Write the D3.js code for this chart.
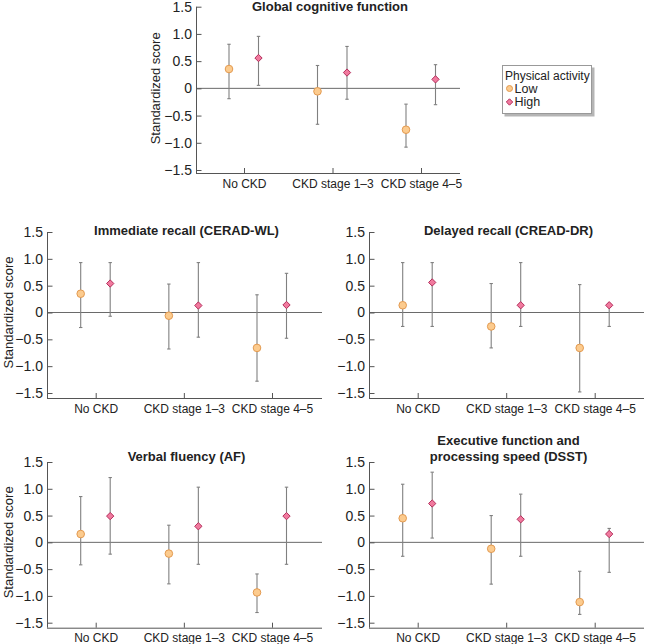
<!DOCTYPE html>
<html><head><meta charset="utf-8">
<script src="https://cdn.jsdelivr.net/npm/d3@7"></script>
<style>body{margin:0;background:#fff;} text{font-family:"Liberation Sans",Arial,Helvetica,sans-serif;fill:#222;}</style>
</head><body>
<svg id="c" width="654" height="644"></svg>
<script>
const categories = ["No CKD", "CKD stage 1–3", "CKD stage 4–5"];
const groups = ["Low", "High"];
const yTicks = [1.5, 1.0, 0.5, 0, -0.5, -1.0, -1.5];
const yTickLabels = ["1.5", "1.0", "0.5", "0", "−0.5", "−1.0", "−1.5"];
const legendTitle = "Physical activity";
const yAxisTitle = "Standardized score";

// [mean, lower, upper] per category
const globalLow  = [[0.355, -0.19, 0.81], [-0.055, -0.66, 0.42], [-0.76, -1.08, -0.29]];
const globalHigh = [[0.557, 0.055, 0.955], [0.29, -0.20, 0.77], [0.165, -0.30, 0.435]];
const immLow  = [[0.35, -0.28, 0.93], [-0.06, -0.68, 0.53], [-0.66, -1.28, 0.33]];
const immHigh = [[0.54, -0.07, 0.93], [0.13, -0.46, 0.93], [0.14, -0.48, 0.73]];
const delLow  = [[0.135, -0.26, 0.93], [-0.26, -0.66, 0.54], [-0.66, -1.48, 0.52]];
const delHigh = [[0.56, -0.26, 0.93], [0.135, -0.26, 0.93], [0.135, -0.26, 0.16]];
const verbLow  = [[0.155, -0.42, 0.855], [-0.21, -0.775, 0.32], [-0.935, -1.31, -0.59]];
const verbHigh = [[0.49, -0.22, 1.21], [0.30, -0.41, 1.03], [0.49, -0.41, 1.03]];
const execLow  = [[0.45, -0.26, 1.085], [-0.12, -0.78, 0.50], [-1.115, -1.345, -0.54]];
const execHigh = [[0.725, 0.08, 1.31], [0.43, -0.26, 0.90], [0.155, -0.56, 0.26]];

const panelTitles = [
  ["Global cognitive function"],
  ["Immediate recall (CERAD-WL)"],
  ["Delayed recall (CREAD-DR)"],
  ["Verbal fluency (AF)"],
  ["Executive function and", "processing speed (DSST)"]
];

const svg = d3.select("#c");
const lowFill = "#FCCB8E", lowStroke = "#E39A50";
const highFill = "#F17A9E", highStroke = "#B42E5C";
const barColor = "#808080";

const panels = [
  {title: panelTitles[0], low: globalLow, high: globalHigh, x0: 196, x1: 460, yT: 6.7, yB: 170, axB: 173, c0: 244, c1: 421, ytitle: 155, titleY: [10.5]},
  {title: panelTitles[1], low: immLow, high: immHigh, x0: 47, x1: 322, yT: 232, yB: 393, axB: 398, c0: 95.7, c1: 272, ytitle: 8, titleY: [234.5]},
  {title: panelTitles[2], low: delLow, high: delHigh, x0: 369, x1: 644, yT: 232, yB: 393, axB: 398, c0: 417.7, c1: 594.7, ytitle: null, titleY: [234.5]},
  {title: panelTitles[3], low: verbLow, high: verbHigh, x0: 47, x1: 322, yT: 462, yB: 622.7, axB: 627.7, c0: 95.7, c1: 272, ytitle: 8, titleY: [461]},
  {title: panelTitles[4], low: execLow, high: execHigh, x0: 369, x1: 644, yT: 462, yB: 622.7, axB: 627.7, c0: 417.7, c1: 594.7, ytitle: null, titleY: [444.5, 461]}
];

const off = {Low: -15, High: 14.5};

panels.forEach(p => {
  const g = svg.append("g");
  const y = d3.scaleLinear().domain([-1.5, 1.5]).range([p.yB, p.yT]);
  const x = d3.scalePoint().domain(categories).range([p.c0, p.c1]);

  // zero line
  g.append("line").attr("x1", p.x0).attr("x2", p.x1).attr("y1", y(0)).attr("y2", y(0))
    .attr("stroke", "#6a6a6a").attr("stroke-width", 1);

  // y axis
  const ya = d3.axisLeft(y).tickValues(yTicks).tickSizeInner(-5).tickSizeOuter(0)
    .tickFormat((d, i) => yTickLabels[i]).tickPadding(4);
  const yg = g.append("g").attr("transform", `translate(${p.x0},0)`).call(ya);
  yg.select(".domain").remove();
  yg.append("line").attr("x1", 0.5).attr("x2", 0.5).attr("y1", p.yT).attr("y2", p.axB).attr("stroke", "#555");
  yg.selectAll(".tick line").attr("stroke", "#555").attr("transform", "translate(0.5,0)");
  yg.selectAll(".tick text").attr("font-size", 14).attr("fill", "#222")
    .style("font-family", "'Liberation Sans',Arial,sans-serif");

  // x axis
  const xa = d3.axisBottom(x).tickSizeInner(-5).tickSizeOuter(0).tickPadding(6);
  const xg = g.append("g").attr("transform", `translate(0,${p.axB})`).call(xa);
  xg.select(".domain").remove();
  xg.append("line").attr("x1", p.x0).attr("x2", p.x1).attr("y1", 0.5).attr("y2", 0.5).attr("stroke", "#555");
  xg.selectAll(".tick line").attr("stroke", "#555");
  xg.selectAll(".tick text").attr("font-size", 12).attr("fill", "#222")
    .style("font-family", "'Liberation Sans',Arial,sans-serif");

  // title
  p.title.forEach((t, i) => {
    g.append("text").attr("x", (p.x0 + p.x1) / 2 + 2).attr("y", p.titleY[i])
      .attr("text-anchor", "middle").attr("font-size", 13).attr("font-weight", "bold").text(t);
  });

  // y title
  if (p.ytitle !== null) {
    g.append("text").attr("transform", `translate(${p.ytitle},${y(0)}) rotate(-90)`)
      .attr("text-anchor", "middle").attr("dominant-baseline", "central")
      .attr("font-size", 13).text(yAxisTitle);
  }

  // error bars + markers
  groups.forEach(grp => {
    const data = grp === "Low" ? p.low : p.high;
    data.forEach((d, i) => {
      const cx = x(categories[i]) + off[grp];
      g.append("line").attr("x1", cx).attr("x2", cx).attr("y1", y(d[1])).attr("y2", y(d[2]))
        .attr("stroke", barColor).attr("stroke-width", 1.1);
      [d[1], d[2]].forEach(v => {
        g.append("line").attr("x1", cx - 1.7).attr("x2", cx + 1.7).attr("y1", y(v)).attr("y2", y(v))
          .attr("stroke", barColor).attr("stroke-width", 1.1);
      });
      if (grp === "Low") {
        g.append("circle").attr("cx", cx).attr("cy", y(d[0])).attr("r", 3.8)
          .attr("fill", lowFill).attr("stroke", lowStroke).attr("stroke-width", 1);
      } else {
        g.append("path").attr("d", d3.symbol().type(d3.symbolDiamond2).size(34)())
          .attr("transform", `translate(${cx},${y(d[0])})`)
          .attr("fill", highFill).attr("stroke", highStroke).attr("stroke-width", 1);
      }
    });
  });
});

// legend
const lg = svg.append("g");
lg.append("rect").attr("x", 504.5).attr("y", 67.5).attr("width", 90).attr("height", 49).attr("fill", "#b5b5b5");
lg.append("rect").attr("x", 502.5).attr("y", 65.5).attr("width", 89).attr("height", 48)
  .attr("fill", "#fff").attr("stroke", "#999");
lg.append("text").attr("x", 505).attr("y", 79.5).attr("font-size", 12).text(legendTitle);
groups.forEach((grp, i) => {
  const cy = 88.5 + i * 13.5;
  if (grp === "Low") {
    lg.append("circle").attr("cx", 509.5).attr("cy", cy).attr("r", 3)
      .attr("fill", lowFill).attr("stroke", lowStroke);
  } else {
    lg.append("path").attr("d", d3.symbol().type(d3.symbolDiamond2).size(26)())
      .attr("transform", `translate(509.5,${cy})`).attr("fill", highFill).attr("stroke", highStroke);
  }
  lg.append("text").attr("x", 514.5).attr("y", cy + 4.3).attr("font-size", 12.5).text(grp);
});
</script>
</body></html>
